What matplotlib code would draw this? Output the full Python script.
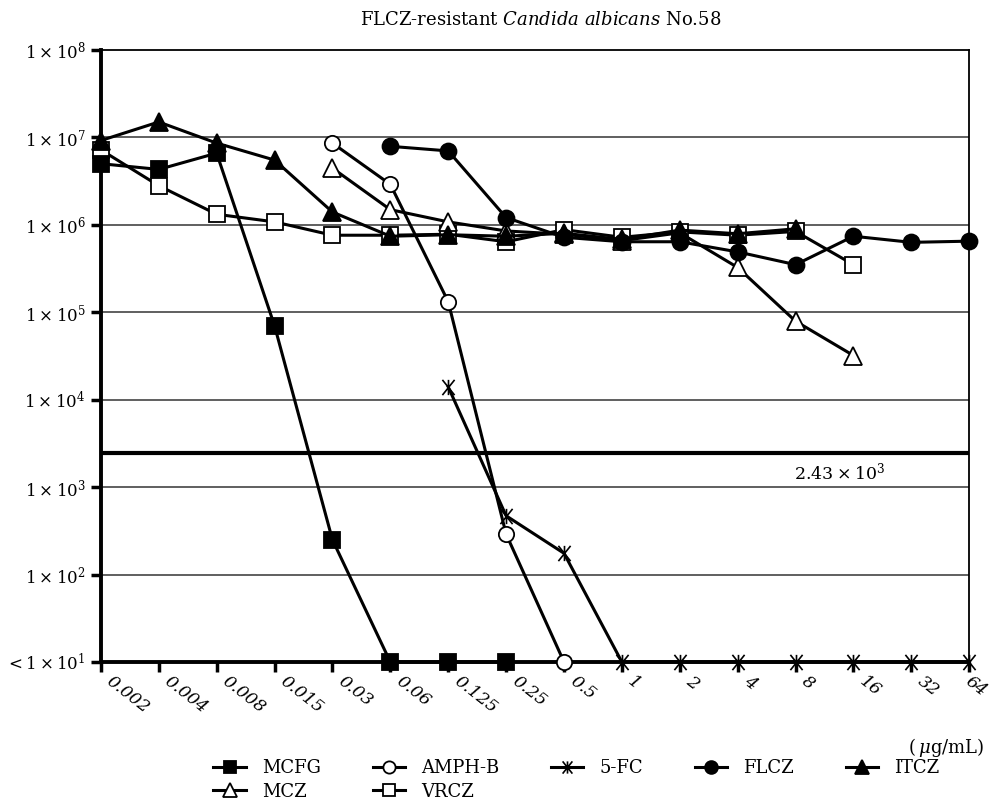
import numpy as np
import matplotlib
matplotlib.use("Agg")
import matplotlib.pyplot as plt
from matplotlib.path import Path
from matplotlib.transforms import ScaledTranslation

plt.rcParams['font.family'] = 'DejaVu Serif'
plt.rcParams['mathtext.fontset'] = 'dejavuserif'

concs = ['0.002', '0.004', '0.008', '0.015', '0.03', '0.06', '0.125', '0.25',
         '0.5', '1', '2', '4', '8', '16', '32', '64']

# viable counts (cfu/mL); 10 means below detection (<1x10^1)
mcfg = [5.0e6, 4.3e6, 6.6e6, 7.0e4, 2.5e2, 10, 10, 10]
amphb = [8.6e6, 2.9e6, 1.32e5, 2.9e2, 10]
fc5 = [1.4e4, 4.7e2, 1.75e2, 10, 10, 10, 10, 10, 10, 10]
flcz = [7.9e6, 7.0e6, 1.21e6, 7.2e5, 6.4e5, 6.4e5, 4.9e5, 3.5e5, 7.4e5, 6.3e5, 6.5e5]
itcz = [9.2e6, 1.5e7, 8.6e6, 5.5e6, 1.4e6, 7.4e5, 7.7e5, 7.4e5, 8.0e5, 6.8e5, 8.7e5, 7.9e5, 9.0e5]
mcz = [4.45e6, 1.49e6, 1.08e6, 8.5e5, 7.8e5, 6.6e5, 8.1e5, 3.25e5, 7.9e4, 3.2e4]
vrcz = [7.2e6, 2.8e6, 1.32e6, 1.08e6, 7.6e5, 7.6e5, 7.8e5, 6.4e5, 8.8e5, 7.2e5, 8.3e5, 7.6e5, 8.4e5, 3.5e5]

# first concentration index of each series
starts = {'MCFG': 0, 'AMPH-B': 4, '5-FC': 6, 'FLCZ': 5, 'ITCZ': 0, 'MCZ': 4, 'VRCZ': 0}
cutoff = 2.43e3

# six-armed asterisk for 5-FC
star = Path([(0, -1), (0, 1), (-0.8, -1), (0.8, 1), (-0.8, 1), (0.8, -1)],
            [Path.MOVETO, Path.LINETO, Path.MOVETO, Path.LINETO, Path.MOVETO, Path.LINETO])

styles = {
    'MCFG': dict(marker='s', mfc='black', ms=11),
    'AMPH-B': dict(marker='o', mfc='white', ms=11),
    '5-FC': dict(marker=star, mfc='none', ms=11, mew=1.2),
    'FLCZ': dict(marker='o', mfc='black', ms=11.5),
    'ITCZ': dict(marker='^', mfc='black', ms=12.5),
    'MCZ': dict(marker='^', mfc='white', ms=12.5),
    'VRCZ': dict(marker='s', mfc='white', ms=11.5),
}
series = {'MCFG': mcfg, 'AMPH-B': amphb, '5-FC': fc5, 'FLCZ': flcz,
          'ITCZ': itcz, 'MCZ': mcz, 'VRCZ': vrcz}

fig = plt.figure(figsize=(9.89, 7.99), dpi=100)
ax = fig.add_axes([0.102, 0.1715, 0.878, 0.766])

ax.set_yscale('log')
ax.set_ylim(1e1, 1e8)
ax.set_xlim(0, len(concs) - 1)

for y in [1e2, 1e3, 1e4, 1e5, 1e6, 1e7]:
    ax.axhline(y, color='#444444', lw=1.2, zorder=1)
ax.axhline(cutoff, color='black', lw=3, zorder=2)
ax.text(11.98, cutoff * 0.8, '2.43\u2009×\u200910$^{3}$', fontsize=12.5, ha='left', va='top')

handles = {}
draw_order = ['VRCZ', 'MCZ', 'ITCZ', 'FLCZ', '5-FC', 'AMPH-B', 'MCFG']
for z, name in enumerate(draw_order):
    vals = series[name]
    x = np.arange(starts[name], starts[name] + len(vals))
    st = styles[name]
    ln, = ax.plot(x, vals, color='black', lw=2.2, marker=st['marker'], ms=st['ms'],
                  mfc=st['mfc'], mec='black', mew=st.get('mew', 1.3),
                  clip_on=False, zorder=5 + z, label=name)
    handles[name] = ln

# spines
for side in ['left', 'bottom']:
    ax.spines[side].set_linewidth(2.8)
for side in ['top', 'right']:
    ax.spines[side].set_linewidth(1.3)

ax.set_yticks([1e1, 1e2, 1e3, 1e4, 1e5, 1e6, 1e7, 1e8])
ax.set_yticklabels(['<\u20091\u2009×\u200910$^{1}$'] +
                   ['1\u2009×\u200910$^{%d}$' % n for n in range(2, 9)], fontsize=12)
ax.yaxis.set_minor_locator(plt.NullLocator())
ax.tick_params(axis='y', length=7, width=2.5, pad=4)

ax.set_xticks(np.arange(len(concs)))
ax.set_xticklabels(concs, rotation=-38, ha='left', va='top', rotation_mode='anchor',
                   style='italic', fontsize=12.5)
ax.tick_params(axis='x', length=7, width=2.5, pad=1)
xlbls = ax.get_xticklabels()
for i, lbl in enumerate(xlbls):
    dx = 13 if i < len(xlbls) - 1 else 3
    lbl.set_transform(lbl.get_transform() + ScaledTranslation(dx / 100, 0, fig.dpi_scale_trans))

fig.text(0.547, 0.975, r'FLCZ-resistant $\mathit{Candida\ albicans}$ No.58',
         ha='center', va='center', fontsize=13)
fig.text(0.995, 0.065, '(\u2009$\\mu$g/mL)', ha='right', va='center', fontsize=13)

order = ['MCFG', 'MCZ', 'AMPH-B', 'VRCZ', '5-FC', 'FLCZ', 'ITCZ']
fig.legend([handles[n] for n in order], order, ncol=5, loc='center',
           bbox_to_anchor=(0.583, 0.024), frameon=False, fontsize=13,
           handlelength=1.8, handletextpad=0.9, columnspacing=2.85,
           labelspacing=0.3, markerscale=0.8)

fig.savefig('out.png', dpi=100)
